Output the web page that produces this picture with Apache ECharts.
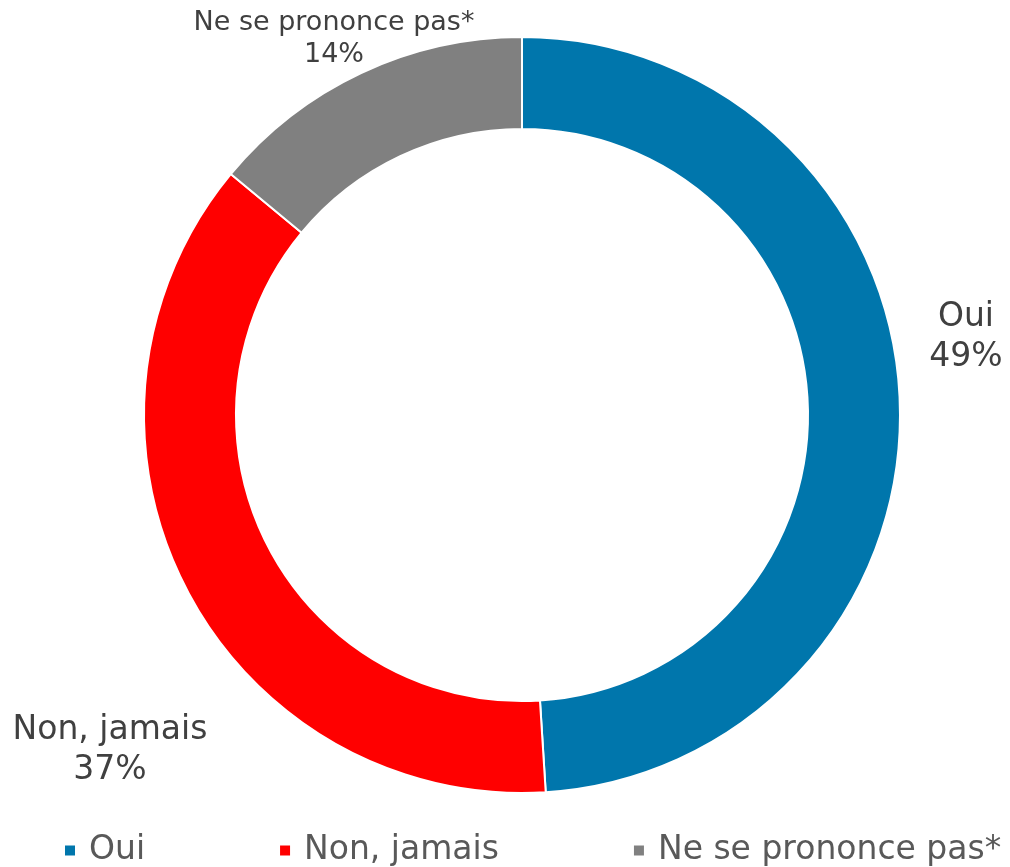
<!DOCTYPE html>
<html>
<head>
<meta charset="utf-8">
<script src="https://cdn.jsdelivr.net/npm/echarts@6/dist/echarts.min.js"></script>
<style>
  html, body { margin: 0; padding: 0; background: #fff; }
  #main { width: 1010px; height: 867px; }
</style>
</head>
<body>
<div id="main"></div>
<script>
// valeurs
var categories = ['Oui', 'Non, jamais', 'Ne se prononce pas*'];
var values = [49, 37, 14];
var colors = ['#0076AC', '#FF0000', '#808080'];
// où Excel a posé les étiquettes (centre du bloc de texte)
var labelSpots = [[966, 337], [110, 750], [334, 39]];
var labelSizes = [33, 33, 27];

var chart = echarts.init(document.getElementById('main'));

var data = categories.map(function (name, i) {
  return {
    name: name,
    value: values[i],
    itemStyle: { color: colors[i] },
    label: { fontSize: labelSizes[i], lineHeight: Math.round(labelSizes[i] * 1.2) }
  };
});

var option = {
  animation: false,
  legend: {
    top: 834,
    left: 63,
    width: 947,
    padding: 0,
    icon: 'rect',
    itemWidth: 12,
    itemHeight: 12,
    itemGap: 133,
    textStyle: {
      fontFamily: 'DejaVu Sans',
      fontSize: 33,
      color: '#595959',
      padding: [0, 0, 0, 8]
    },
    data: categories
  },
  series: [
    {
      type: 'pie',
      center: [522, 415],
      radius: [286, 378],
      startAngle: 90,
      clockwise: true,
      avoidLabelOverlap: false,
      itemStyle: { borderColor: '#fff', borderWidth: 2 },
      label: {
        show: true,
        position: 'outside',
        formatter: '{b}\n{c}%',
        fontFamily: 'DejaVu Sans',
        color: '#404040',
        align: 'center'
      },
      labelLine: { show: false },
      labelLayout: function (params) {
        var p = labelSpots[params.dataIndex];
        return { x: p[0], y: p[1], align: 'center', verticalAlign: 'middle' };
      },
      emphasis: { disabled: true },
      data: data
    }
  ]
};

chart.setOption(option);
</script>
</body>
</html>
